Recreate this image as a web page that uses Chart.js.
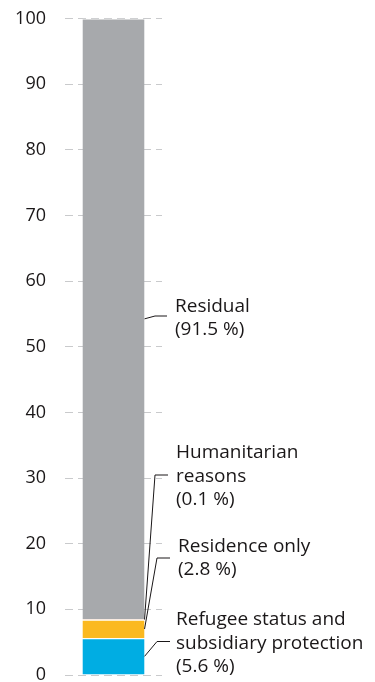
<!DOCTYPE html>
<html>
<head>
<meta charset="utf-8">
<script src="https://cdn.jsdelivr.net/npm/chart.js@4/dist/chart.umd.min.js"></script>
<style>
  html, body { margin: 0; padding: 0; background: #ffffff; }
  #wrap { width: 375px; height: 682px; }
</style>
</head>
<body>
<div id="wrap"><canvas id="c" width="375" height="682"></canvas></div>
<script>
// Share of first residence permits by reason (%)
const categories = ['Total'];
const seriesNames = ['Refugee status and subsidiary protection', 'Residence only', 'Humanitarian reasons', 'Residual'];
const shares = [5.6, 2.8, 0.1, 91.5];
const yTicks = [0, 10, 20, 30, 40, 50, 60, 70, 80, 90, 100];
// How each series name is broken over lines in its callout
const nameLines = [
  ['Refugee status and', 'subsidiary protection'],
  ['Residence only'],
  ['Humanitarian', 'reasons'],
  ['Residual']
];

const colors = ['#00ADE3', '#FBB920', '#E8772E', '#A7A9AC'];
const inkColor = '#1A1718';
const fontFamily = '"Open Sans", "Noto Sans", sans-serif';

// Callout layout: elbow point of the leader, end of its horizontal run,
// text left edge, first baseline and line spacing (pixels)
const callouts = [
  { elbowX: 157, elbowY: 641.5, endX: 170, textX: 176, baseY: 625, lh: 23.5 },
  { elbowX: 157, elbowY: 558, endX: 170, textX: 178, baseY: 552, lh: 23 },
  { elbowX: 155, elbowY: 475, endX: 168, textX: 176, baseY: 458, lh: 23.5 },
  { elbowX: 155, elbowY: 316, endX: 167, textX: 175, baseY: 312, lh: 23 }
];

const calloutPlugin = {
  id: 'callouts',
  afterDatasetsDraw(chart) {
    const ctx = chart.ctx;
    ctx.save();
    ctx.strokeStyle = inkColor;
    ctx.lineWidth = 1;
    ctx.fillStyle = inkColor;
    ctx.font = '19px ' + fontFamily;
    ctx.textBaseline = 'alphabetic';
    ctx.textAlign = 'left';
    chart.data.datasets.forEach((ds, i) => {
      const bar = chart.getDatasetMeta(i).data[0];
      const c = callouts[i];
      const right = bar.x + bar.width / 2;
      const midY = (bar.y + bar.base) / 2;
      ctx.beginPath();
      ctx.moveTo(right, midY);
      ctx.lineTo(c.elbowX, c.elbowY);
      ctx.lineTo(c.endX, c.elbowY);
      ctx.stroke();
      const lines = nameLines[i].concat(['(' + shares[i] + ' %)']);
      lines.forEach((t, k) => ctx.fillText(t, c.textX, c.baseY + k * c.lh));
    });
    ctx.restore();
  }
};

new Chart(document.getElementById('c'), {
  type: 'bar',
  data: {
    labels: categories,
    datasets: seriesNames.map((name, i) => ({
      label: name,
      data: [shares[i]],
      backgroundColor: colors[i],
      borderColor: '#ffffff',
      borderWidth: { top: 1, right: 0, bottom: 0, left: 0 },
      borderSkipped: false,
      barPercentage: 0.64,
      categoryPercentage: 1
    }))
  },
  options: {
    responsive: false,
    animation: false,
    devicePixelRatio: 1,
    layout: { padding: { top: 18.5, right: 213, bottom: 7, left: 0 } },
    plugins: { legend: { display: false }, tooltip: { enabled: false } },
    scales: {
      x: { stacked: true, display: false },
      y: {
        stacked: true,
        min: 0,
        max: 100,
        afterFit(scale) {
          scale.width = 65;
          scale.paddingTop = 0;
          scale.paddingBottom = 0;
        },
        afterBuildTicks(scale) { scale.ticks = yTicks.map(v => ({ value: v })); },
        border: { display: false, dash: [8, 5] },
        grid: { color: '#C9CACC', lineWidth: 1, drawTicks: false },
        ticks: {
          padding: 19,
          color: inkColor,
          font: { family: fontFamily, size: 18 }
        }
      }
    }
  },
  plugins: [calloutPlugin]
});
</script>
</body>
</html>
